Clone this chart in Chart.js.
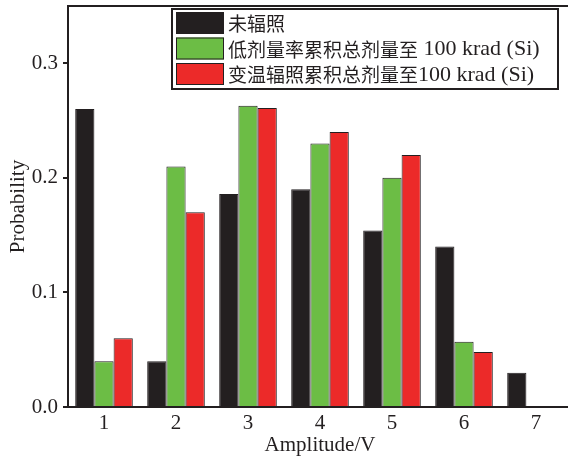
<!DOCTYPE html>
<html>
<head>
<meta charset="utf-8">
<script src="https://cdn.jsdelivr.net/npm/chart.js@4/dist/chart.umd.min.js"></script>
<style>
  html, body { margin: 0; padding: 0; background: #fff; overflow: hidden; }
  #wrap { width: 580px; height: 458px; position: relative; }
</style>
</head>
<body>
<div id="wrap"><canvas id="chart"></canvas></div>
<script>
// data
const amplitudes = ['1', '2', '3', '4', '5', '6', '7'];
const seriesNames = ['未辐照', '低剂量率累积总剂量至 100 krad (Si)', '变温辐照累积总剂量至100 krad (Si)'];
const unirradiated = [0.26, 0.04, 0.186, 0.19, 0.154, 0.14, 0.03];
const lowDoseRate = [0.04, 0.21, 0.263, 0.23, 0.2, 0.057, 0];
const varTemp = [0.06, 0.17, 0.261, 0.24, 0.22, 0.048, 0];
const yTicks = [0, 0.1, 0.2, 0.3];

const colors = ['#231f20', '#6cbd45', '#ec2a29'];
const serif = "'Liberation Serif', 'Times New Roman', serif";

// draws a string with CJK and latin runs in different sizes
function drawMixed(ctx, text, x, y) {
    const runs = text.match(/[\u4e00-\u9fff]+|[^\u4e00-\u9fff]+/g) || [];
    runs.forEach(run => {
        if (/[\u4e00-\u9fff]/.test(run)) {
            ctx.font = "19px 'Noto Sans CJK SC'";
        } else {
            ctx.font = "22px " + serif;
        }
        ctx.fillText(run, x, y);
        x += ctx.measureText(run).width;
    });
}

const framePlugin = {
    id: 'frame',
    afterDraw(chart) {
        const ctx = chart.ctx;
        const a = chart.chartArea;
        ctx.save();
        ctx.strokeStyle = '#231f20';
        ctx.lineWidth = 2;
        ctx.beginPath();
        ctx.moveTo(a.left, a.top);
        ctx.lineTo(a.right, a.top);
        ctx.lineTo(a.right, a.bottom);
        ctx.stroke();

        // legend box
        const bx = 172, by = 9, bw = 386, bh = 80;
        ctx.lineWidth = 2;
        ctx.fillStyle = '#fff';
        ctx.fillRect(bx, by, bw, bh);
        ctx.strokeRect(bx, by, bw, bh);
        chart.data.datasets.forEach((ds, i) => {
            const ry = by + 3 + i * 25.5;
            ctx.fillStyle = ds.backgroundColor;
            ctx.fillRect(176, ry, 48, 22);
            ctx.lineWidth = 1;
            ctx.strokeStyle = '#231f20';
            ctx.strokeRect(176.5, ry + 0.5, 47, 21);
            ctx.fillStyle = '#231f20';
            ctx.textBaseline = 'middle';
            ctx.textAlign = 'left';
            drawMixed(ctx, ds.label, 228, ry + 12);
        });
        ctx.restore();
    }
};

const ctx = document.getElementById('chart');
new Chart(ctx, {
    type: 'bar',
    data: {
        labels: amplitudes,
        datasets: [
            { label: seriesNames[0], data: unirradiated, backgroundColor: colors[0] },
            { label: seriesNames[1], data: lowDoseRate, backgroundColor: colors[1] },
            { label: seriesNames[2], data: varTemp, backgroundColor: colors[2] }
        ].map(d => Object.assign(d, { borderColor: '#231f20', borderWidth: 1, borderSkipped: 'bottom' }))
    },
    options: {
        responsive: true,
        maintainAspectRatio: false,
        animation: false,
        categoryPercentage: 0.8,
        barPercentage: 1.0,
        layout: { padding: { top: 6, right: 8, left: 0, bottom: 0 } },
        plugins: {
            legend: { display: false },
            tooltip: { enabled: false }
        },
        scales: {
            x: {
                grid: { display: false, drawTicks: false },
                border: { display: true, color: '#231f20', width: 2 },
                ticks: { color: '#231f20', font: { family: serif, size: 21 }, padding: 4 },
                title: {
                    display: true, text: 'Amplitude/V', color: '#231f20',
                    font: { family: serif, size: 21 }, padding: { top: 2, bottom: 0 }
                },
                afterFit(scale) { scale.height = 51; }
            },
            y: {
                min: 0,
                max: 0.35,
                afterBuildTicks(scale) { scale.ticks = yTicks.map(v => ({ value: v })); },
                grid: { drawOnChartArea: false, drawTicks: true, tickLength: 5, color: '#231f20', lineWidth: 2 },
                border: { display: true, color: '#231f20', width: 2 },
                ticks: {
                    color: '#231f20', font: { family: serif, size: 21 }, padding: 5,
                    callback: v => v.toFixed(1)
                },
                title: {
                    display: true, text: 'Probability', color: '#231f20',
                    font: { family: serif, size: 21 }, padding: { top: 6, bottom: 0 }
                },
                afterFit(scale) {
                    scale.width = 68;
                    scale.paddingTop = 0;
                    scale.paddingBottom = 0;
                }
            }
        }
    },
    plugins: [framePlugin]
});
</script>
</body>
</html>
